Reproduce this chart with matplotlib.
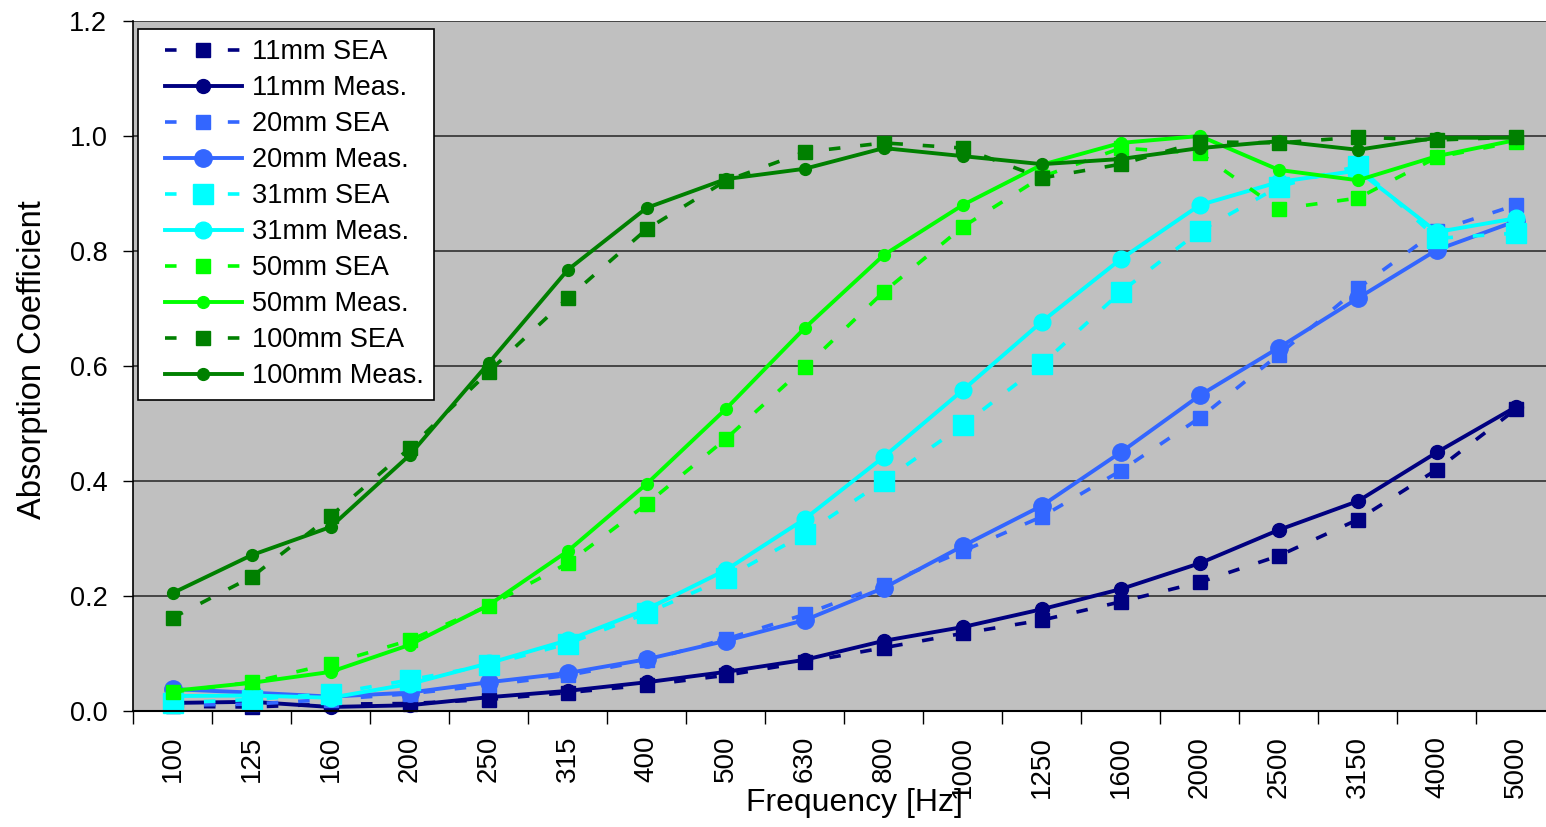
import matplotlib
matplotlib.use("Agg")
import matplotlib.pyplot as plt
from matplotlib.ticker import FixedLocator, NullFormatter
from matplotlib.lines import Line2D
from matplotlib.legend_handler import HandlerLine2D

freqs = ["100", "125", "160", "200", "250", "315", "400", "500", "630", "800",
         "1000", "1250", "1600", "2000", "2500", "3150", "4000", "5000"]

sea_11 = [0.008, 0.007, 0.012, 0.013, 0.020, 0.032, 0.045, 0.062, 0.085, 0.110,
          0.135, 0.158, 0.190, 0.224, 0.270, 0.333, 0.420, 0.525]
meas_11 = [0.014, 0.016, 0.007, 0.010, 0.024, 0.035, 0.050, 0.068, 0.089, 0.122,
           0.146, 0.177, 0.212, 0.257, 0.315, 0.365, 0.450, 0.529]
sea_20 = [0.010, 0.012, 0.020, 0.030, 0.045, 0.062, 0.088, 0.125, 0.168, 0.220,
          0.278, 0.338, 0.418, 0.510, 0.620, 0.735, 0.835, 0.880]
meas_20 = [0.038, 0.032, 0.025, 0.032, 0.050, 0.066, 0.090, 0.122, 0.158, 0.214,
           0.287, 0.357, 0.450, 0.549, 0.632, 0.718, 0.802, 0.852]
sea_31 = [0.014, 0.020, 0.030, 0.054, 0.080, 0.117, 0.170, 0.231, 0.308, 0.400,
          0.497, 0.603, 0.729, 0.835, 0.912, 0.948, 0.822, 0.831]
meas_31 = [0.026, 0.027, 0.023, 0.047, 0.083, 0.123, 0.177, 0.245, 0.334, 0.442,
           0.558, 0.677, 0.786, 0.880, 0.920, 0.940, 0.833, 0.857]
sea_50 = [0.033, 0.050, 0.082, 0.123, 0.183, 0.257, 0.360, 0.473, 0.598, 0.729,
          0.842, 0.929, 0.979, 0.970, 0.873, 0.892, 0.963, 0.990]
meas_50 = [0.035, 0.049, 0.068, 0.115, 0.184, 0.278, 0.395, 0.525, 0.666, 0.793,
           0.880, 0.950, 0.988, 1.000, 0.941, 0.923, 0.965, 0.993]
sea_100 = [0.162, 0.233, 0.339, 0.457, 0.590, 0.718, 0.838, 0.922, 0.972, 0.988,
           0.979, 0.927, 0.951, 0.990, 0.988, 0.998, 0.993, 0.998]
meas_100 = [0.205, 0.271, 0.320, 0.445, 0.605, 0.767, 0.875, 0.925, 0.943, 0.979,
            0.965, 0.951, 0.960, 0.979, 0.991, 0.976, 0.997, 0.997]

series = [
    ("11mm SEA", sea_11, "#000080", "s", 9.5, "--"),
    ("11mm Meas.", meas_11, "#000080", "o", 10, "-"),
    ("20mm SEA", sea_20, "#3366FF", "s", 9.5, "--"),
    ("20mm Meas.", meas_20, "#3366FF", "o", 12.5, "-"),
    ("31mm SEA", sea_31, "#00FFFF", "s", 14.5, "--"),
    ("31mm Meas.", meas_31, "#00FFFF", "o", 12, "-"),
    ("50mm SEA", sea_50, "#00FF00", "s", 9.5, "--"),
    ("50mm Meas.", meas_50, "#00FF00", "o", 8.5, "-"),
    ("100mm SEA", sea_100, "#008000", "s", 9.5, "--"),
    ("100mm Meas.", meas_100, "#008000", "o", 8.5, "-"),
]

plain = ["Liberation Sans", "DejaVu Sans"]

fig = plt.figure(figsize=(15.46, 8.27), dpi=100)
W, H = 1546, 827
ax = fig.add_axes([133 / W, (H - 711) / H, (W - 133) / W, 690 / H])
ax.set_facecolor("#C0C0C0")

x = list(range(len(freqs)))
for label, vals, color, mk, ms, ls in series:
    if ls == "--":
        ax.plot(x, vals, color=color, lw=2.6, linestyle=(0, (3.2, 5.5)),
                marker=mk, ms=ms, label=label, clip_on=False)
    else:
        ax.plot(x, vals, color=color, lw=2.8, linestyle="-",
                marker=mk, ms=ms, label=label, clip_on=False)

ax.set_ylim(0, 1.2)
ax.set_xlim(-0.5, 17.5 - 9.5 / 79)
ax.set_yticks([0, 0.2, 0.4, 0.6, 0.8, 1.0, 1.2])
ax.set_yticklabels(["0.0", "0.2", "0.4", "0.6", "0.8", "1.0", "1.2"],
                   fontfamily=plain, fontsize=19.5)
ax.yaxis.grid(True, color="#303030", lw=1.2)
ax.set_axisbelow(True)

ax.xaxis.set_major_locator(FixedLocator([i - 0.5 for i in range(len(freqs) + 1)]))
ax.xaxis.set_major_formatter(NullFormatter())
ax.xaxis.set_minor_locator(FixedLocator(x))
ax.set_xticklabels(freqs, minor=True, rotation=90, fontfamily=plain, fontsize=20)
ax.tick_params(axis="x", which="major", length=9, width=1, direction="out")
ax.tick_params(axis="x", which="minor", length=0, pad=18)
ax.tick_params(axis="y", length=7.5, width=1, pad=11)

for s in ["top", "right"]:
    ax.spines[s].set_visible(False)
ax.spines["left"].set_linewidth(1.2)
ax.spines["bottom"].set_linewidth(1.5)

ax.set_xlabel("Frequency [Hz]", fontfamily=plain, fontsize=23)
ax.xaxis.set_label_coords((854 - 133) / (W - 133), (711 - 803) / 690)
ax.xaxis.label.set_va("center")
ax.set_ylabel("Absorption Coefficient", fontfamily=plain, fontsize=23.5)
ax.yaxis.set_label_coords((33 - 133) / (W - 133), (711 - 360) / 690)
ax.yaxis.label.set_va("center")

leg = ax.legend(loc="upper left", bbox_to_anchor=(138 / W, (H - 29) / H),
                bbox_transform=fig.transFigure, frameon=True, fancybox=False,
                prop={"family": plain, "size": 19.5}, handlelength=3.45,
                handletextpad=0.38, labelspacing=0.37, borderpad=0.38,
                borderaxespad=0,
                handler_map={Line2D: HandlerLine2D(xpad=0.6)})
leg.get_frame().set_edgecolor("black")
leg.get_frame().set_linewidth(1.2)
leg.get_frame().set_facecolor("white")
leg.get_frame().set_alpha(1)

fig.savefig("out.png", dpi=100)
